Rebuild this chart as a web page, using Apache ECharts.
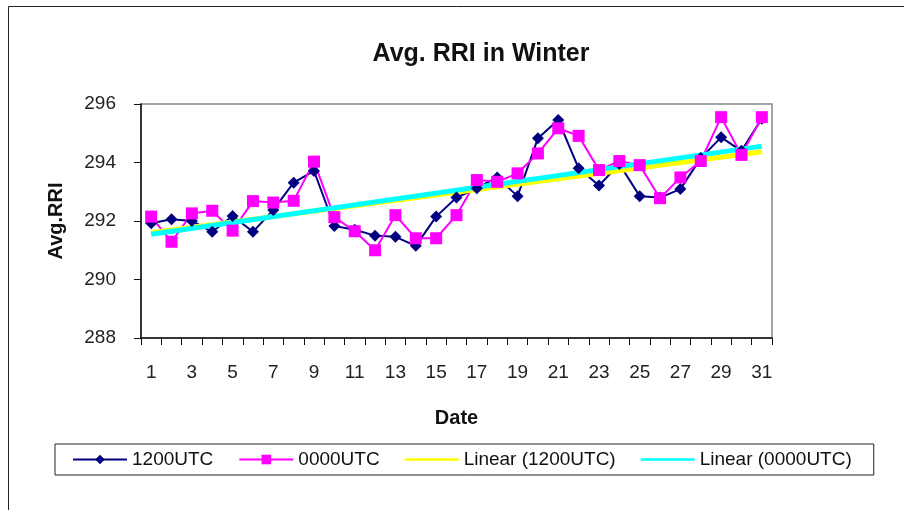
<!DOCTYPE html>
<html>
<head>
<meta charset="utf-8">
<style>
  html, body { margin: 0; padding: 0; background: #fff; }
  #chart { width: 904px; height: 510px; }
</style>
<script src="https://cdn.jsdelivr.net/npm/echarts@6/dist/echarts.min.js"></script>
</head>
<body>
<div id="chart"></div>
<script>
const dates = ['1','2','3','4','5','6','7','8','9','10','11','12','13','14','15','16',
    '17','18','19','20','21','22','23','24','25','26','27','28','29','30','31'];
const utc1200 = [291.92, 292.06, 292.0, 291.63, 292.17, 291.63, 292.38, 293.31, 293.71, 291.83,
    291.7, 291.5, 291.46, 291.15, 292.15, 292.8, 293.12, 293.49, 292.85, 294.83,
    295.45, 293.8, 293.21, 293.95, 292.85, 292.8, 293.09, 294.15, 294.86, 294.4, 295.5];
const utc0000 = [292.15, 291.29, 292.26, 292.35, 291.67, 292.68, 292.63, 292.69, 294.03, 292.13,
    291.65, 291.0, 292.2, 291.41, 291.41, 292.2, 293.4, 293.34, 293.63, 294.31,
    295.17, 294.91, 293.74, 294.05, 293.91, 292.78, 293.49, 294.05, 295.55, 294.26, 295.55];
// trend line end points (day 1, day 31)
const trend1200 = [291.6, 294.37];
const trend0000 = [291.55, 294.56];

function initChart() {
    const chartDom = document.getElementById('chart');
    const myChart = echarts.init(chartDom);
    const font = 'Liberation Sans, Arial, sans-serif';
    const first = dates[0], last = dates[dates.length - 1];
    const lineIcon = 'path://M0 0H100V5H0Z';

    myChart.setOption({
        backgroundColor: '#fff',
        animation: false,
        textStyle: { fontFamily: font },
        title: {
            text: 'Avg. RRI in Winter', left: 476, top: 37, textAlign: 'center',
            textStyle: { fontSize: 25, fontWeight: 'bold', color: '#111', fontFamily: font }
        },
        graphic: [{
            type: 'rect', silent: true,
            shape: { x: 8.5, y: 6.5, width: 1000, height: 1000 },
            style: { fill: 'none', stroke: '#222', lineWidth: 1 }
        }],
        legend: {
            left: 55, top: 444,
            padding: [6, 22, 6, 17],
            borderColor: '#222', borderWidth: 1,
            itemWidth: 54, itemHeight: 12, itemGap: 25,
            textStyle: { fontSize: 19, color: '#111', fontFamily: font },
            data: [
                { name: '1200UTC' },
                { name: '0000UTC' },
                { name: 'Linear (1200UTC)', icon: lineIcon },
                { name: 'Linear (0000UTC)', icon: lineIcon }
            ]
        },
        grid: {
            left: 141, top: 104, right: 132, bottom: 172,
            show: true, borderColor: '#888', borderWidth: 1.5, backgroundColor: '#fff'
        },
        xAxis: {
            type: 'category', data: dates, boundaryGap: true,
            name: 'Date', nameLocation: 'middle', nameGap: 70,
            nameTextStyle: { fontSize: 20, fontWeight: 'bold', color: '#111', fontFamily: font },
            axisLine: { lineStyle: { color: '#111', width: 1.5 } },
            axisTick: { show: true, interval: 0, length: 7, lineStyle: { color: '#111' } },
            axisLabel: { interval: 1, margin: 25, fontSize: 19, color: '#222', fontFamily: font },
            splitLine: { show: false }
        },
        yAxis: {
            type: 'value', min: 288, max: 296, interval: 2,
            name: 'Avg.RRI', nameLocation: 'middle', nameGap: 75, nameRotate: 90,
            nameTextStyle: { fontSize: 20, fontWeight: 'bold', color: '#111', fontFamily: font },
            axisLine: { show: true, lineStyle: { color: '#111', width: 1.5 } },
            axisTick: { show: true, length: 7, lineStyle: { color: '#111' } },
            axisLabel: { margin: 25, fontSize: 19, color: '#222', fontFamily: font },
            splitLine: { show: false }
        },
        series: [
            {
                name: '1200UTC', type: 'line', data: utc1200,
                symbol: 'diamond', symbolSize: 12,
                lineStyle: { color: '#000080', width: 2 },
                itemStyle: { color: '#000080' }
            },
            {
                name: '0000UTC', type: 'line', data: utc0000,
                symbol: 'rect', symbolSize: 12,
                lineStyle: { color: '#ff00ff', width: 2 },
                itemStyle: { color: '#ff00ff' }
            },
            {
                name: 'Linear (1200UTC)', type: 'line',
                data: [[first, trend1200[0]], [last, trend1200[1]]],
                symbol: 'none',
                lineStyle: { color: '#ffff00', width: 5 },
                itemStyle: { color: '#ffff00' }
            },
            {
                name: 'Linear (0000UTC)', type: 'line',
                data: [[first, trend0000[0]], [last, trend0000[1]]],
                symbol: 'none',
                lineStyle: { color: '#00ffff', width: 5 },
                itemStyle: { color: '#00ffff' }
            }
        ]
    });
    window.addEventListener('resize', () => myChart.resize());
}

document.addEventListener('DOMContentLoaded', initChart);
</script>
</body>
</html>
